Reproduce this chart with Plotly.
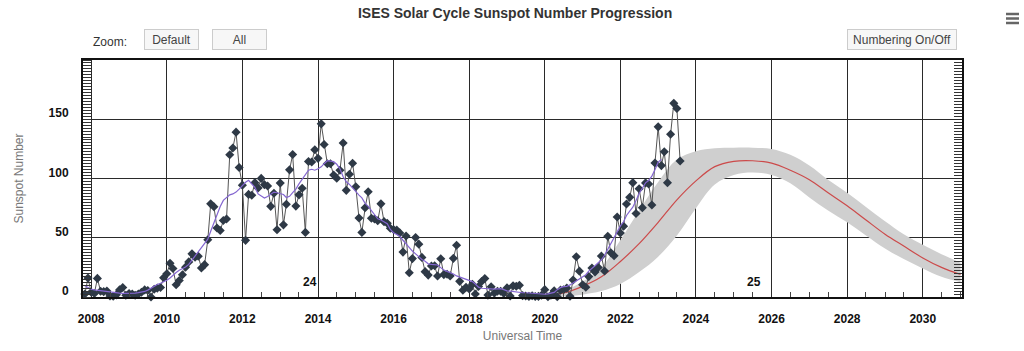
import pandas as pd
import plotly.graph_objects as go

FONT = "Liberation Sans, Arial, sans-serif"

# ---------------- data ----------------
# Observed monthly sunspot number (Nov 2007 .. Aug 2023), one row per year
obs_start = "2007-11-01"
observed_sn = [
    2.5, 16.0,                                                                  # 2007 (Nov-Dec)
    4.0, 3.0, 15.7, 4.8, 4.5, 5.0, 0.8, 0.6, 1.8, 6.0, 8.0, 1.5,                # 2008
    3.0, 2.5, 1.5, 2.5, 4.0, 6.0, 5.5, 0.0, 6.5, 7.5, 8.0, 16.3,                # 2009
    19.6, 28.5, 24.0, 10.4, 13.9, 18.8, 25.2, 29.6, 36.4, 33.6, 34.4, 24.5,     # 2010
    27.3, 48.3, 78.6, 76.1, 58.2, 56.1, 64.5, 65.8, 120.1, 125.7, 139.1, 109.3, # 2011
    94.4, 47.8, 86.6, 85.9, 96.5, 92.0, 100.1, 94.8, 93.7, 76.5, 87.6, 56.8,    # 2012
    96.1, 60.9, 78.3, 107.3, 120.2, 76.7, 86.2, 91.8, 54.5, 114.4, 113.9, 124.2,# 2013
    117.0, 146.1, 128.7, 112.5, 112.5, 102.9, 100.2, 106.9, 130.0, 90.0, 103.6, 112.9, # 2014
    93.0, 66.7, 54.5, 75.3, 88.8, 66.5, 65.8, 64.4, 78.6, 63.6, 62.2, 58.0,     # 2015
    57.0, 56.4, 54.1, 37.9, 51.5, 20.5, 32.4, 50.2, 44.6, 33.4, 21.4, 18.5,     # 2016
    26.1, 26.4, 17.7, 32.3, 18.9, 19.2, 17.8, 32.6, 43.7, 13.2, 5.7, 8.2,       # 2017
    6.8, 10.7, 2.5, 8.9, 13.1, 15.6, 1.6, 8.7, 3.3, 4.9, 4.9, 3.1,              # 2018
    7.7, 0.8, 9.4, 9.1, 9.9, 1.2, 0.9, 0.5, 1.1, 0.4, 0.5, 1.5,                 # 2019
    6.2, 0.2, 1.5, 5.2, 0.2, 5.8, 6.1, 7.5, 0.6, 14.4, 34.0, 21.8,              # 2020
    10.4, 8.2, 17.2, 24.5, 21.2, 25.0, 34.5, 22.0, 51.3, 37.4, 34.8, 67.5,      # 2021
    54.0, 59.7, 78.5, 84.1, 96.5, 70.5, 91.4, 75.4, 96.3, 95.4, 77.6, 113.1,    # 2022
    143.6, 110.9, 122.6, 96.4, 137.4, 163.4, 159.1, 114.8,                      # 2023 (Jan-Aug)
]

# Smoothed monthly sunspot number (Nov 2007 .. Feb 2023)
smooth_start = "2007-11-01"
smoothed_sn = [
    9.5, 7.8,                                                                   # 2007
    6.5, 6.0, 5.6, 5.3, 5.0, 4.7, 4.4, 4.0, 3.6, 3.2, 3.0, 3.0,                 # 2008
    3.0, 3.0, 3.3, 3.7, 4.1, 4.7, 5.8, 7.5, 9.2, 10.6, 11.6, 12.7,              # 2009
    14.1, 16.0, 18.5, 20.7, 22.6, 24.0, 25.3, 27.5, 31.0, 35.0, 38.8, 42.2,     # 2010
    45.6, 48.8, 55.5, 62.5, 70.5, 76.3, 81.5, 83.5, 86.2, 87.0, 88.5, 91.0,     # 2011
    94.4, 96.8, 98.5, 95.8, 92.5, 87.0, 85.2, 83.5, 84.8, 86.6, 88.5, 88.0,     # 2012
    87.3, 86.5, 84.0, 85.0, 88.0, 91.0, 95.5, 99.5, 104.0, 107.0, 107.8, 107.0, # 2013
    108.2, 109.8, 112.5, 115.0, 114.6, 114.2, 112.0, 108.2, 101.5, 97.2, 95.0, 91.8, # 2014
    88.8, 86.0, 83.6, 79.0, 76.5, 73.0, 68.9, 66.0, 65.0, 63.7, 61.8, 57.0,     # 2015
    54.2, 52.8, 51.2, 47.9, 44.6, 41.3, 38.8, 36.4, 33.6, 31.7, 30.2, 28.0,     # 2016
    27.6, 27.5, 27.0, 24.8, 22.7, 21.6, 20.6, 19.4, 17.8, 16.9, 15.6, 15.0,     # 2017
    13.9, 13.0, 11.0, 8.3, 7.4, 7.1, 7.0, 6.7, 6.6, 6.9, 7.0, 6.2,              # 2018
    5.2, 4.9, 4.5, 4.2, 3.9, 3.6, 3.6, 3.3, 3.2, 2.9, 2.4, 2.1,                 # 2019
    2.3, 2.7, 3.0, 3.9, 6.2, 7.9, 8.7, 9.0, 10.2, 12.0, 13.3, 15.1,             # 2020
    17.3, 18.8, 21.8, 24.6, 26.4, 28.9, 31.4, 35.2, 40.4, 45.7, 51.1, 55.2,     # 2021
    60.0, 63.5, 68.8, 72.5, 75.8, 81.4, 87.3, 91.8, 96.3, 98.3, 102.0, 107.3,   # 2022
    113.8, 116.0,                                                               # 2023
]

# Predicted cycle 25 with its uncertainty band
pred_dates = ["2020-01-01", "2020-07-01", "2021-01-01", "2021-07-01", "2022-01-01",
              "2022-07-01", "2023-01-01", "2023-07-01", "2024-01-01", "2024-07-01",
              "2025-01-01", "2025-07-01", "2026-01-01", "2026-07-01", "2027-01-01",
              "2027-07-01", "2028-01-01", "2028-07-01", "2029-01-01", "2029-07-01",
              "2030-01-01", "2030-07-01", "2031-01-01"]
pred_sn = [1.5, 3.5, 9, 17, 30, 45, 63, 82, 98, 110, 114.5, 115, 113, 107, 99,
           88, 77, 65, 53, 43, 33, 25, 19]
pred_high = [2, 5, 13, 25, 48, 73, 97, 116, 123, 125.5, 126, 126, 125, 120, 111,
             99, 88, 76, 64, 53, 44, 36, 29]
pred_low = [0, 0.5, 2, 5, 11, 21, 34, 52, 75, 95, 103, 105, 103, 96, 84,
            73, 63, 52, 41, 32, 24, 17, 12.5]

cycle_labels = ["24", "25"]
cycle_label_x = ["2013-10-15", "2025-07-15"]
cycle_label_y = [12.5, 12.5]

y_tick_values = [0, 50, 100, 150]
x_range = ["2007-10-14", "2031-01-15"]
y_range = [0, 200]

obs_dates = pd.date_range(obs_start, periods=len(observed_sn), freq="MS")
smooth_dates = pd.date_range(smooth_start, periods=len(smoothed_sn), freq="MS")

# ---------------- figure ----------------
fig = go.Figure()

fig.add_trace(go.Scatter(x=pred_dates, y=pred_low, mode="lines",
                         line=dict(width=0, shape="spline", color="rgba(0,0,0,0)"),
                         hoverinfo="skip", showlegend=False))
fig.add_trace(go.Scatter(x=pred_dates, y=pred_high, mode="lines",
                         line=dict(width=0, shape="spline", color="rgba(0,0,0,0)"),
                         fill="tonexty", fillcolor="#cfcfcf",
                         hoverinfo="skip", showlegend=False))
fig.add_trace(go.Scatter(x=pred_dates, y=pred_sn, mode="lines", name="Predicted",
                         line=dict(width=1.2, shape="spline", color="#cc4a4a"),
                         showlegend=False))
fig.add_trace(go.Scatter(x=obs_dates, y=observed_sn, mode="lines+markers", name="Observed",
                         line=dict(width=1, color="#555555"),
                         marker=dict(symbol="diamond", size=7, color="#2e3946"),
                         cliponaxis=False, showlegend=False))
fig.add_trace(go.Scatter(x=smooth_dates, y=smoothed_sn, mode="lines", name="Smoothed",
                         line=dict(width=1.2, color="#8466d0"),
                         showlegend=False))
# helper trace so the right-hand minor-tick axis is drawn
fig.add_trace(go.Scatter(x=pred_dates[:1], y=pred_sn[:1], yaxis="y2", mode="lines",
                         line=dict(width=0), hoverinfo="skip", showlegend=False))

annotations = []
for lbl, lx, ly in zip(cycle_labels, cycle_label_x, cycle_label_y):
    annotations.append(dict(x=lx, y=ly, xref="x", yref="y", text=lbl, showarrow=False,
                            font=dict(family=FONT, size=12, color="#111", weight="bold")))

def px_x(px):
    return (px - 83) / 879.0

def px_y(py):
    return (297 - py) / 237.0

annotations.append(dict(x=px_x(110), y=px_y(42), xref="paper", yref="paper", text="Zoom:",
                        xanchor="center", yanchor="middle",
                        showarrow=False, font=dict(family=FONT, size=12, color="#333")))
for txt, cx, w in [("Default", 171.5, 55), ("All", 239.5, 55), ("Numbering On/Off", 902, 110)]:
    annotations.append(dict(x=px_x(cx), y=px_y(40), xref="paper", yref="paper", text=txt,
                            xanchor="center", yanchor="middle",
                            showarrow=False, width=w - 4, height=17, borderpad=1,
                            bgcolor="#f7f7f7", bordercolor="#cccccc", borderwidth=1,
                            font=dict(family=FONT, size=12, color="#444")))

shapes = []
for py in [14, 18.5, 23]:
    shapes.append(dict(type="line", xref="paper", yref="paper",
                       x0=px_x(1006), x1=px_x(1019), y0=px_y(py), y1=px_y(py),
                       line=dict(color="#666", width=2.5)))

fig.update_layout(
    width=1024, height=351,
    margin=dict(l=83, r=62, t=60, b=54, autoexpand=False),
    paper_bgcolor="white", plot_bgcolor="white",
    font=dict(family=FONT, size=12, color="#333"),
    title=dict(text="ISES Solar Cycle Sunspot Number Progression", x=0.503, xref="container",
               y=1 - 13 / 351, yref="container", xanchor="center", yanchor="middle",
               font=dict(family=FONT, size=14, color="#333", weight="bold")),
    xaxis=dict(type="date", range=x_range, dtick="M24", tick0="2008-01-01", tickformat="%Y",
               showgrid=True, gridcolor="#2a2a2a", gridwidth=1, zeroline=False,
               ticks="", showline=True, linecolor="#111", linewidth=2, mirror=True,
               ticklabelstandoff=10,
               tickfont=dict(family=FONT, size=12, color="#111", weight="bold"),
               minor=dict(dtick="M6", ticks="inside", ticklen=5, tickcolor="#444",
                          tickwidth=1, showgrid=False),
               title=dict(text="Universal Time", standoff=6,
                          font=dict(family=FONT, size=12, color="#777")),
               automargin=False),
    yaxis=dict(range=y_range, tickmode="array", tickvals=y_tick_values,
               showgrid=True, gridcolor="#2a2a2a", gridwidth=1,
               zeroline=False, ticks="", showline=True, linecolor="#111", linewidth=2,
               mirror=True, ticklabelshift=-6, ticklabelstandoff=10,
               tickfont=dict(family=FONT, size=12, color="#111", weight="bold"),
               minor=dict(tickmode="linear", tick0=0, dtick=2.5, ticks="inside", ticklen=8,
                          tickcolor="#333", tickwidth=1, showgrid=False),
               title=dict(text="Sunspot Number", standoff=22,
                          font=dict(family=FONT, size=12, color="#777")),
               automargin=False),
    yaxis2=dict(range=y_range, overlaying="y", side="right", showgrid=False, zeroline=False,
                showticklabels=False, ticks="", showline=False,
                minor=dict(tickmode="linear", tick0=0, dtick=2.5, ticks="inside", ticklen=8,
                           tickcolor="#333", tickwidth=1, showgrid=False)),
    annotations=annotations,
    shapes=shapes,
)

fig.write_html("out.html", config={"displayModeBar": False})
